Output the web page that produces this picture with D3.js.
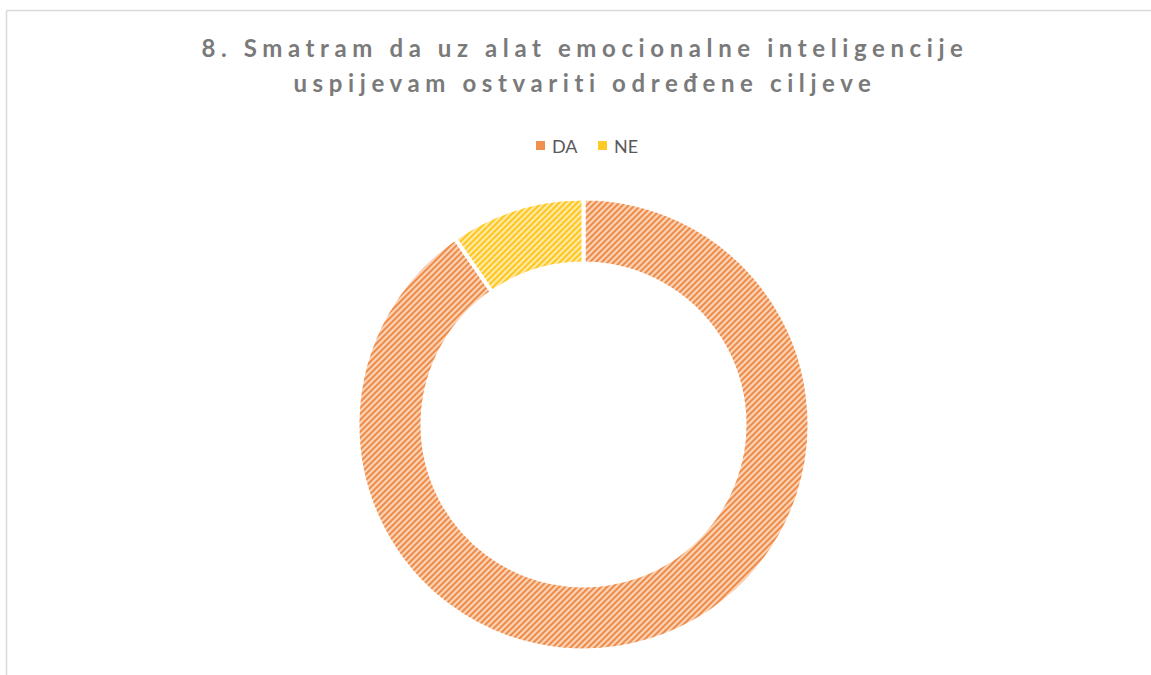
<!DOCTYPE html>
<html>
<head>
<meta charset="utf-8">
<script src="https://cdn.jsdelivr.net/npm/d3@7"></script>
<style>
  html, body { margin: 0; padding: 0; background: #fff; }
  svg { display: block; }
</style>
</head>
<body>
<svg id="chart" width="1151" height="675"></svg>
<script>
const titleLines = ["8. Smatram da uz alat emocionalne inteligencije", "uspijevam ostvariti određene ciljeve"];
const categories = ["DA", "NE"];
const values = [47, 5];
const colors = ["#ED7D31", "#FFC000"];
const lightColors = ["#FCE0CC", "#FFEFC0"];

const svg = d3.select("#chart");
const W = 1151, H = 675;

// patterns
const defs = svg.append("defs");
categories.forEach((c, i) => {
  const p = defs.append("pattern")
    .attr("id", "pat" + i)
    .attr("patternUnits", "userSpaceOnUse")
    .attr("width", 6).attr("height", 6);
  p.append("rect").attr("width", 6).attr("height", 6).attr("fill", lightColors[i]);
  p.append("path")
    .attr("d", "M-1,7 L7,-1 M-4,4 L4,-4 M2,10 L10,2")
    .attr("stroke", colors[i]).attr("stroke-width", 2.2).attr("stroke-opacity", 0.95);
});

// chart border (top and left visible)
svg.append("line").attr("x1", 6.5).attr("y1", 10.5).attr("x2", W).attr("y2", 10.5)
  .attr("stroke", "#d9d9d9").attr("stroke-width", 1.5);
svg.append("line").attr("x1", 6.5).attr("y1", 10.5).attr("x2", 6.5).attr("y2", H)
  .attr("stroke", "#d9d9d9").attr("stroke-width", 1.5);

// title
svg.append("g").selectAll("text").data(titleLines).join("text")
  .attr("x", 585).attr("y", (d, i) => 57 + i * 35)
  .attr("text-anchor", "middle")
  .attr("font-family", "Lato, 'Open Sans', sans-serif")
  .attr("font-weight", "bold")
  .attr("font-size", 24)
  .attr("letter-spacing", 5.6)
  .attr("fill", "#7a7a7a")
  .text(d => d);

// legend
const legendX = [536, 598];
const lg = svg.append("g");
categories.forEach((c, i) => {
  lg.append("rect").attr("x", legendX[i]).attr("y", 141).attr("width", 9).attr("height", 9)
    .attr("fill", colors[i]).attr("opacity", 0.85);
  lg.append("text").attr("x", legendX[i] + 16).attr("y", 152.5)
    .attr("font-family", "Lato, 'Open Sans', sans-serif")
    .attr("font-size", 18).attr("fill", "#595959").text(c);
});

// donut
const cx = 583.5, cy = 424.5, rOuter = 226, rInner = 161;
const pie = d3.pie().sort(null).value(d => d)(values);
const arc = d3.arc().innerRadius(rInner).outerRadius(rOuter);
svg.append("g").attr("transform", `translate(${cx},${cy})`)
  .selectAll("path").data(pie).join("path")
  .attr("d", arc)
  .attr("fill", (d, i) => `url(#pat${i})`)
  .attr("stroke", "#fff").attr("stroke-width", 4);
</script>
</body>
</html>
